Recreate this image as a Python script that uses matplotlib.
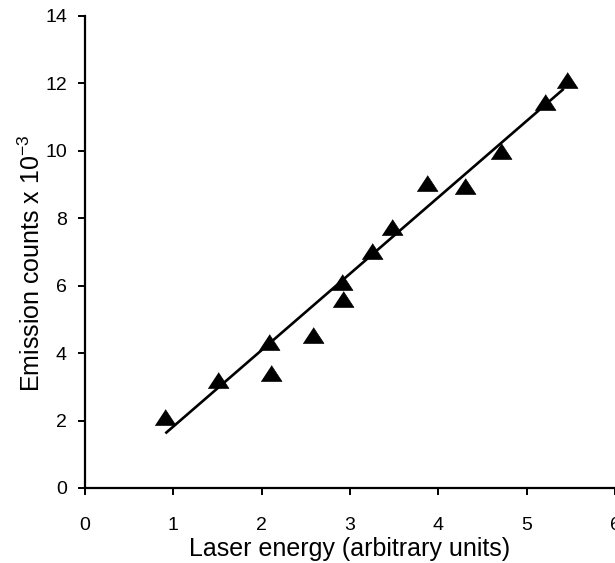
import matplotlib
matplotlib.use("Agg")
import matplotlib.pyplot as plt

# Data
energy = [0.91, 1.50, 2.08, 2.10, 2.58, 2.91, 2.92, 3.25, 3.47, 3.87, 4.30, 4.71, 5.21, 5.46]
counts = [2.12, 3.20, 4.33, 3.40, 4.53, 6.11, 5.60, 7.03, 7.74, 9.05, 8.95, 9.99, 11.45, 12.09]
fit_x = [0.91, 5.42]
fit_y = [1.62, 11.84]
x_ticks = [0, 1, 2, 3, 4, 5, 6]
y_ticks = [0, 2, 4, 6, 8, 10, 12, 14]

plt.rcParams['font.family'] = ['Liberation Sans', 'DejaVu Sans']
plt.rcParams['mathtext.default'] = 'regular'

W, H = 615, 563
fig = plt.figure(figsize=(W / 100, H / 100), dpi=100)
ax = fig.add_axes([85 / W, 1 - 488 / H, (615 - 85) / W, (488 - 16) / H])

tri = [(-1, -0.76), (1, -0.76), (0, 0.76)]
ax.plot(fit_x, fit_y, color='black', lw=1.9, solid_capstyle='butt', zorder=2)
ax.plot(energy, counts, linestyle='none', marker=tri, markersize=15,
        markerfacecolor='black', markeredgecolor='black', markeredgewidth=0.5, zorder=3)

ax.set_xlim(0, 6)
ax.set_ylim(0, 14)
ax.set_xticks(x_ticks)
ax.set_yticks(y_ticks)
ax.set_xticklabels([str(v) for v in x_ticks])
ax.set_yticklabels([str(v) for v in y_ticks])

for s in ['top', 'right']:
    ax.spines[s].set_visible(False)
for s in ['left', 'bottom']:
    ax.spines[s].set_linewidth(1.6)
    ax.spines[s].set_color('black')

ax.tick_params(axis='both', direction='out', length=5, width=1.4, colors='black', labelsize=14)
ax.tick_params(axis='x', pad=16)
ax.tick_params(axis='y', pad=8)

ax.set_xlabel('Laser energy (arbitrary units)', fontsize=18, labelpad=2)
ax.set_ylabel('Emission counts x 10$^{-3}$', fontsize=18, labelpad=8)
ax.yaxis.set_label_coords(-0.075, 0.477)

fig.savefig('out.png', dpi=100)
